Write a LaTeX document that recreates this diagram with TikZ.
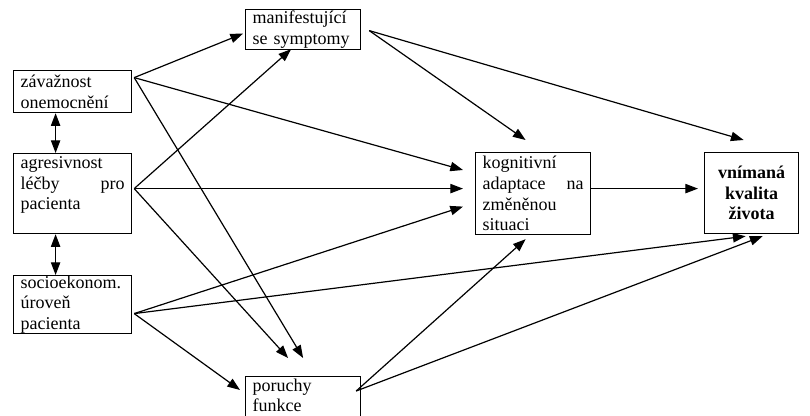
\documentclass[tikz,border=0pt]{standalone}
\usepackage{fontspec}
\setmainfont{Liberation Serif}
\usetikzlibrary{calc,arrows.meta}

\tikzstyle{factor}=[draw=black, line width=0.9pt, anchor=north west, inner xsep=5.25pt, inner ysep=0pt, align=left, font=\fontsize{13.5}{15.5}\selectfont]
\tikzstyle{link}=[line width=0.9pt, -{Triangle[length=9.5pt,width=7pt]}]
\tikzstyle{both}=[line width=0.9pt, {Triangle[length=9.5pt,width=7pt]}-{Triangle[length=9.5pt,width=7pt]}]
\def\spread{\hspace{0pt plus 1filll}}

\begin{document}
\begin{tikzpicture}[x=0.75pt, y=-0.75pt]
  \path[use as bounding box, clip] (0,0) rectangle (810,416);

  % factors on the left
  \node [factor, minimum width=88.5pt, minimum height=31.5pt, text width=78pt] (zav) at (13,70) {závažnost\\onemocnění};
  \node [factor, minimum width=88.5pt, minimum height=60pt, text width=78pt] (agr) at (13,153) {agresivnost\\léčby\spread pro\\pacienta\\\mbox{}};
  \node [factor, minimum width=88.5pt, minimum height=43.5pt, text width=78pt] (soc) at (13,275) {socioekonom.\\úroveň\\pacienta};

  % middle factors
  \node [factor, minimum width=86.25pt, minimum height=30pt, text width=75.75pt] (man) at (245,9) {manifestující\\se symptomy};
  \node [factor, minimum width=86.25pt, minimum height=43.5pt, text width=75.75pt] (por) at (245,376) {poruchy\\funkce\\\mbox{}};
  \node [factor, minimum width=86.25pt, minimum height=61.5pt, text width=75.75pt] (kog) at (475,152) {kognitivní\\adaptace\spread na\\změněnou\\situaci};

  % outcome
  \node [factor, minimum width=70.5pt, minimum height=60.75pt, align=center, font=\fontsize{13.5}{15.5}\selectfont\bfseries] (vni) at (704,152) {vnímaná\\kvalita\\života};

  % ports
  \coordinate (zav-out) at ($(zav.east)+(2,-14)$);
  \coordinate (agr-out) at ($(agr.east)+(2,-5)$);
  \coordinate (soc-out) at ($(soc.east)+(2,9)$);
  \coordinate (man-out) at ($(man.east)+(8,1)$);
  \coordinate (por-out) at ($(por.north east)+(-5,15)$);
  \coordinate (kog-out) at ($(kog.east)+(0,-5)$);

  \coordinate (man-in1) at ($(man.west)+(-2,4)$);
  \coordinate (man-in2) at ($(man.south)+(-12,-1)$);
  \coordinate (kog-in1) at ($(kog.north west)+(-12,18)$);
  \coordinate (kog-in2) at ($(kog.west)+(-12,-5)$);
  \coordinate (kog-in3) at ($(kog.west)+(-12,13)$);
  \coordinate (kog-in4) at ($(kog.north)+(-7.5,-12)$);
  \coordinate (kog-in5) at ($(kog.south)+(-7.5,4)$);
  \coordinate (por-in1) at ($(por.north)+(0,-18)$);
  \coordinate (por-in2) at ($(por.north)+(-15,-18)$);
  \coordinate (por-in3) at ($(por.north west)+(-5,14)$);
  \coordinate (vni-in1) at ($(vni.west)+(-6,-4.5)$);
  \coordinate (vni-in2) at ($(vni.north)+(-8,-12)$);
  \coordinate (vni-in3) at ($(vni.south)+(-6,2)$);
  \coordinate (vni-in4) at ($(vni.south)+(11,2)$);

  % links between left factors
  \draw [both] ($(zav.south)+(-17,0)$) -- ($(agr.north)+(-17,0)$);
  \draw [both] ($(agr.south)+(-17,0)$) -- ($(soc.north)+(-17,0)$);

  % directed links
  \foreach \a/\b in {zav-out/man-in1, zav-out/kog-in1, zav-out/por-in1,
                     agr-out/man-in2, agr-out/kog-in2, agr-out/por-in2,
                     soc-out/kog-in3, soc-out/vni-in3, soc-out/por-in3,
                     man-out/kog-in4, man-out/vni-in2, kog-out/vni-in1,
                     por-out/kog-in5, por-out/vni-in4}
  \draw [link] (\a) -- (\b);
\end{tikzpicture}
\end{document}
